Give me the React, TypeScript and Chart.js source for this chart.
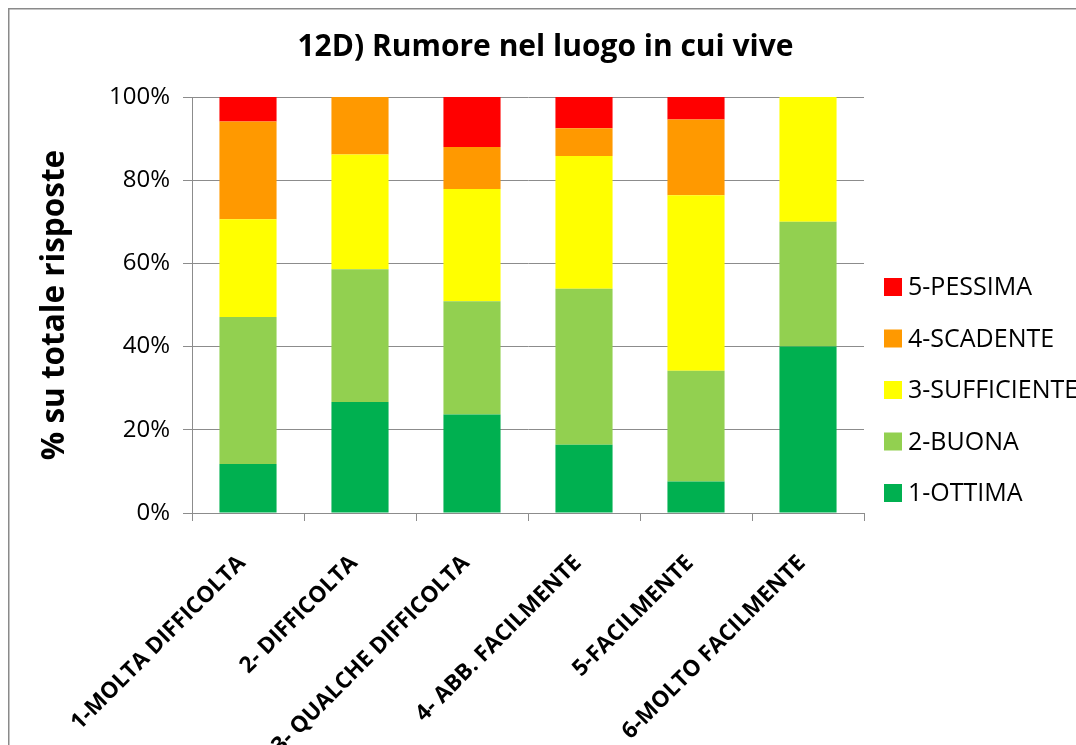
import React, { useEffect, useRef } from 'react';
import { Chart, registerables } from 'chart.js';

Chart.register(...registerables);

const chartTitle = '12D) Rumore nel luogo in cui vive';
const yAxisTitle = '% su totale risposte';
const categories = [
  '1-MOLTA DIFFICOLTA',
  '2- DIFFICOLTA',
  '3- QUALCHE DIFFICOLTA',
  '4- ABB. FACILMENTE',
  '5-FACILMENTE',
  '6-MOLTO FACILMENTE',
];
const seriesNames = ['1-OTTIMA', '2-BUONA', '3-SUFFICIENTE', '4-SCADENTE', '5-PESSIMA'];
const seriesColors = ['#00B050', '#92D050', '#FFFF00', '#FF9900', '#FF0000'];
const ottima = [11.8, 26.7, 23.7, 16.4, 7.6, 40];
const buona = [35.3, 31.9, 27.2, 37.5, 26.6, 30];
const sufficiente = [23.5, 27.6, 27.0, 31.9, 42.2, 30];
const scadente = [23.5, 13.8, 10.1, 6.7, 18.2, 0];
const pessima = [5.9, 0, 12.0, 7.5, 5.4, 0];
const yTicks = [0, 20, 40, 60, 80, 100];

const seriesValues = [ottima, buona, sufficiente, scadente, pessima];

const FONT = '"Open Sans", "Liberation Sans", sans-serif';
const GRID = '#8c8c8c';

const framePlugin = {
  id: 'frame',
  beforeDraw(chart: any) {
    const { ctx, width, height } = chart;
    ctx.save();
    ctx.fillStyle = '#ffffff';
    ctx.fillRect(0, 0, width, height);
    ctx.strokeStyle = '#8a8a8a';
    ctx.lineWidth = 1.5;
    ctx.strokeRect(0.75, 0.75, width - 1.5, height - 1.5);
    ctx.restore();
  },
};

const sideLegendPlugin = {
  id: 'sideLegend',
  afterDraw(chart: any) {
    const { ctx, chartArea } = chart;
    const ds = chart.data.datasets;
    ctx.save();
    ctx.font = `25px ${FONT}`;
    ctx.textBaseline = 'middle';
    ctx.textAlign = 'left';
    for (let i = 0; i < ds.length; i++) {
      const d = ds[i];
      const cy = chartArea.bottom - 20 - i * 51.5;
      ctx.fillStyle = d.backgroundColor;
      ctx.fillRect(chartArea.right + 20, cy - 9, 18, 18);
      ctx.fillStyle = '#000000';
      ctx.fillText(d.label, chartArea.right + 44, cy + 1);
    }
    ctx.restore();
  },
};

export default function App() {
  const canvasRef = useRef<HTMLCanvasElement | null>(null);

  useEffect(() => {
    const canvas = canvasRef.current;
    if (!canvas) return;
    const chart = new Chart(canvas, {
      type: 'bar',
      data: {
        labels: categories,
        datasets: seriesNames.map((name, i) => ({
          label: name,
          data: seriesValues[i],
          backgroundColor: seriesColors[i],
          borderWidth: 0,
          categoryPercentage: 1,
          barPercentage: 0.51,
        })),
      },
      options: {
        responsive: false,
        animation: false,
        devicePixelRatio: 1,
        layout: { padding: 0 },
        plugins: {
          legend: { display: false },
          tooltip: { enabled: false },
          title: {
            display: true,
            text: chartTitle,
            color: '#000000',
            font: { family: FONT, size: 30, weight: 'bold' },
            padding: { top: 21, bottom: 32 },
          },
        },
        scales: {
          x: {
            stacked: true,
            grid: {
              display: true,
              drawOnChartArea: false,
              drawTicks: true,
              tickLength: 8,
              color: GRID,
            },
            border: { display: true, color: GRID },
            ticks: {
              minRotation: 45,
              maxRotation: 45,
              autoSkip: false,
              padding: 29,
              labelOffset: -6,
              color: '#000000',
              font: { family: FONT, size: 22.5, weight: 'bold' },
            },
            afterFit: (s: any) => {
              s.height = 255;
            },
          },
          y: {
            stacked: true,
            min: 0,
            max: 100,
            afterBuildTicks: (s: any) => {
              s.ticks = yTicks.map((v) => ({ value: v }));
            },
            ticks: {
              callback: (v: any) => v + '%',
              padding: 13,
              color: '#000000',
              font: { family: FONT, size: 24 },
            },
            grid: { color: GRID, tickLength: 9 },
            border: { color: GRID },
            title: {
              display: true,
              text: yAxisTitle,
              color: '#000000',
              font: { family: FONT, size: 31.5, weight: 'bold' },
              padding: { top: 28, bottom: 0 },
            },
            afterFit: (s: any) => {
              s.width = 184;
            },
          },
          yRight: {
            position: 'right',
            display: true,
            grid: { display: false },
            ticks: { display: false },
            border: { display: false },
            afterFit: (s: any) => {
              s.width = 219;
            },
          },
        },
      } as any,
      plugins: [framePlugin, sideLegendPlugin],
    });
    return () => chart.destroy();
  }, []);

  return (
    <div
      style={{
        position: 'fixed',
        left: 8,
        top: 8,
        width: 1068,
        height: 737,
        overflow: 'hidden',
        background: '#ffffff',
      }}
    >
      <canvas
        ref={canvasRef}
        width={1075}
        height={760}
        style={{ display: 'block', width: 1075, height: 760 }}
      />
    </div>
  );
}
